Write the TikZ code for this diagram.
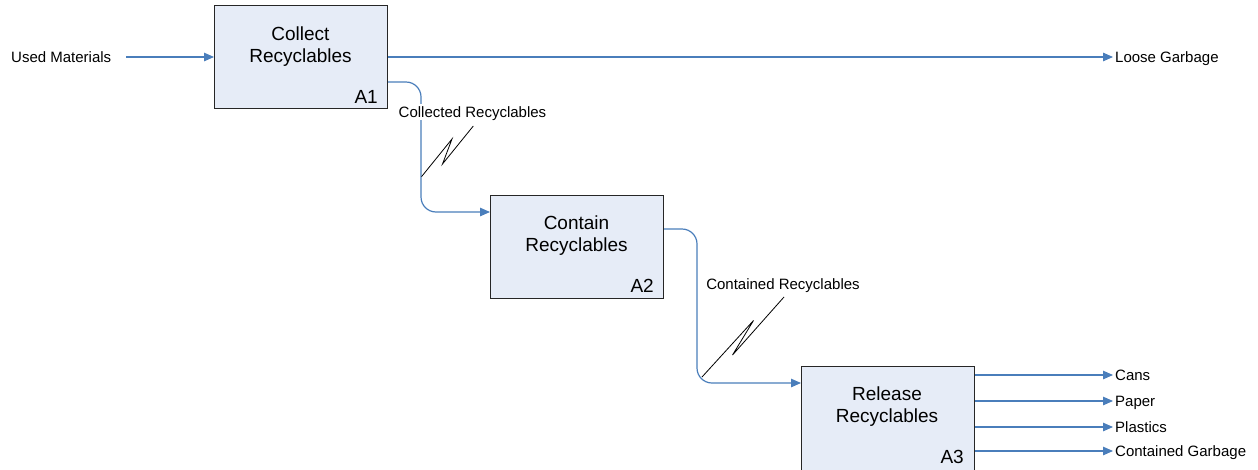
\documentclass[tikz,border=0pt]{standalone}
\usepackage{fontspec}
\setmainfont{Liberation Sans}
\usetikzlibrary{arrows.meta,calc}
\definecolor{boxfill}{RGB}{230,236,247}
\definecolor{flowblue}{RGB}{74,126,187}
\tikzset{
  actbox/.style={draw=black!85, line width=1.1pt, fill=boxfill, minimum width=173pt, minimum height=103pt, anchor=north west, inner sep=0pt},
  acttext/.style={align=center, font=\fontsize{19}{22}\selectfont, inner sep=0pt},
  actid/.style={anchor=base east, font=\fontsize{19}{22}\selectfont, inner sep=0pt},
  flowlbl/.style={font=\fontsize{15}{18}\selectfont, inner sep=2pt, text height=10.8pt, text depth=0pt},
  flow/.style={draw=flowblue, line width=1.2pt, -{Triangle[length=10pt,width=8.5pt]}},
  squig/.style={draw=black, line width=0.8pt, line join=miter},
}
\begin{document}
\begin{tikzpicture}[x=1pt,y=-1pt]
\clip (0,0) rectangle (1258,469);
\fill[white] (0,0) rectangle (1258,469);
% boxes
\node[actbox] (a1) at (214,5) {};
\node[acttext] (a1t) at (300.5,46.5) {Collect\\Recyclables};
\node[actid] (a1id) at (378,103) {A1};
\node[actbox] (a2) at (490,195) {};
\node[acttext] (a2t) at (576.5,235.5) {Contain\\Recyclables};
\node[actid] (a2id) at (654,292) {A2};
\node[actbox, minimum height=120pt] (a3) at (801,366) {};
\node[acttext] (a3t) at (887,406.5) {Release\\Recyclables};
\node[actid] (a3id) at (964,463) {A3};
% external labels
\node[flowlbl, anchor=west] (um) at (9,57) {Used Materials};
\node[flowlbl, anchor=west] (loose) at (1113,57) {Loose Garbage};
\node[flowlbl, anchor=west] (cans) at (1113,375) {Cans};
\node[flowlbl, anchor=west] (paper) at (1113,401) {Paper};
\node[flowlbl, anchor=west] (plastics) at (1113,427) {Plastics};
\node[flowlbl, anchor=west] (cgarb) at (1113,451) {Contained Garbage};
% flows
\draw[flow, shorten <=13pt] (um.east) -- (a1.west |- um.east);
\draw[flow] (a1.east |- loose.west) -- (loose.west);
\coordinate (c1a) at (421,82);
\coordinate (c1b) at (421,212);
\draw[flow, rounded corners=15pt] (a1.east |- c1a) -- (c1a) -- (c1b) -- (a2.west |- c1b);
\coordinate (c2a) at (697,229);
\coordinate (c2b) at (697,383);
\draw[flow, rounded corners=15pt] (a2.east |- c2a) -- (c2a) -- (c2b) -- (a3.west |- c2b);
\draw[flow] (a3.east |- cans.west) -- (cans.west);
\draw[flow] (a3.east |- paper.west) -- (paper.west);
\draw[flow] (a3.east |- plastics.west) -- (plastics.west);
\draw[flow] (a3.east |- cgarb.west) -- (cgarb.west);
% flow labels
\node[flowlbl, fill=white, inner sep=2.5pt] (l1) at (472.5,112) {Collected Recyclables};
\node[flowlbl] (l2) at (783,284) {Contained Recyclables};
% squiggles
\draw[squig] (421.5,176.7) -- (452,139) -- (442.5,164) -- (473.3,126);
\draw[squig] (702,377) -- (753.5,320.5) -- (732.5,355) -- (784,297);
\end{tikzpicture}
\end{document}
